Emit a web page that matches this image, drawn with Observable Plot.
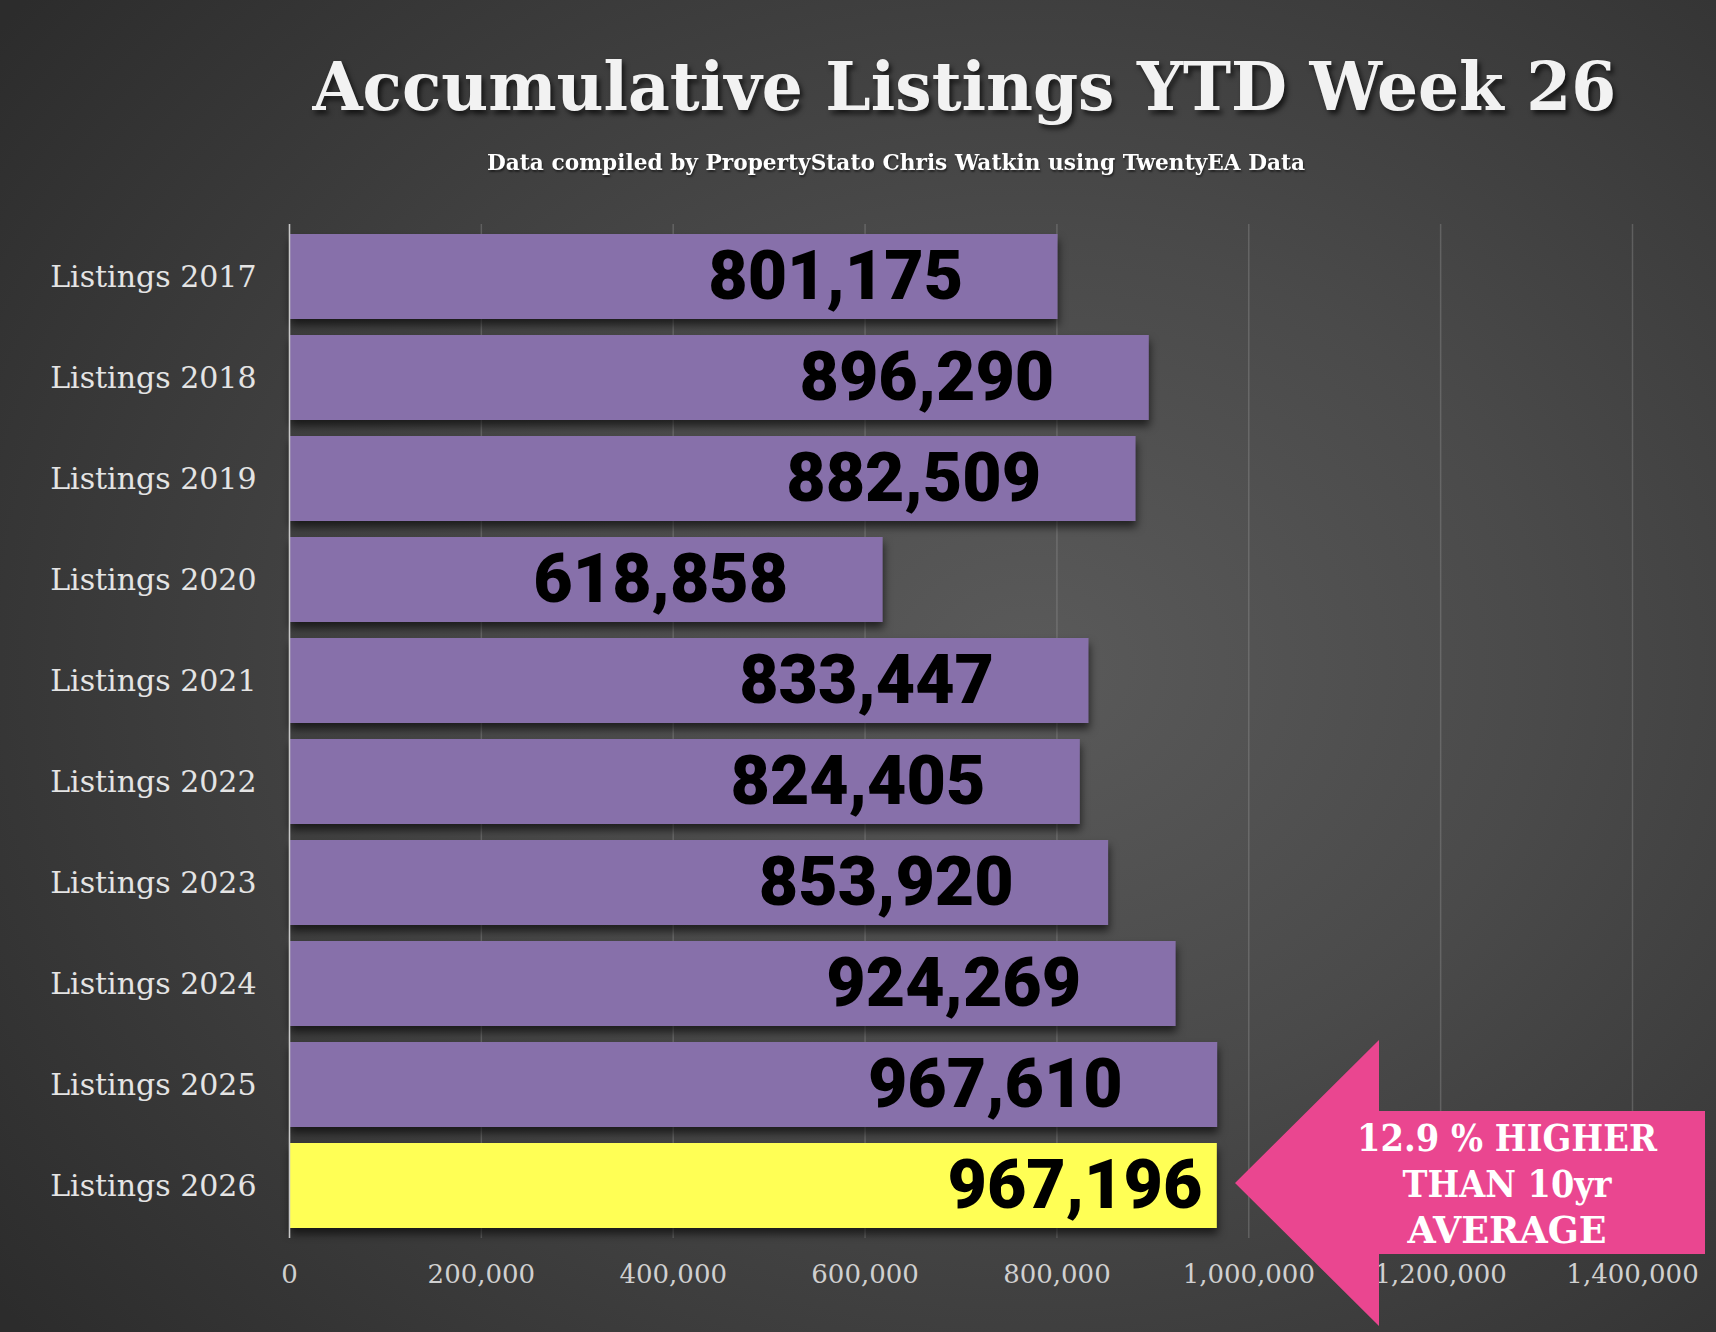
<!DOCTYPE html>
<html>
<head>
<meta charset="utf-8">
<script src="https://cdn.jsdelivr.net/npm/d3@7"></script>
<script src="https://cdn.jsdelivr.net/npm/@observablehq/plot@0.6"></script>
<style>
  html, body { margin: 0; padding: 0; }
  body {
    width: 1716px; height: 1332px; overflow: hidden; position: relative;
    background: radial-gradient(ellipse 75% 80% at 60% 50%, #5a5a5a 0%, #4a4a4a 40%, #2c2c2c 100%);
  }
  .title, .subtitle {
    position: absolute; white-space: nowrap; line-height: 1;
    font-family: "DejaVu Serif", serif; font-weight: bold; color: #f2f2f2;
    transform-origin: center;
  }
  .title { font-size: 68px; top: 52px; text-shadow: 3px 4px 5px rgba(0,0,0,0.65); }
  .subtitle { font-size: 22px; top: 151px; color: #fff; text-shadow: 1px 2px 2px rgba(0,0,0,0.5); }
  #chart { position: absolute; left: 0; top: 0; }
  #callout { position: absolute; left: 0; top: 0; pointer-events: none; }
</style>
</head>
<body>
<div class="title" id="title">Accumulative Listings YTD Week 26</div>
<div class="subtitle" id="subtitle">Data compiled by PropertyStato Chris Watkin using TwentyEA Data</div>
<div id="chart"></div>
<svg id="callout" width="1716" height="1332"></svg>
<script>
// chart data
const years = ["Listings 2017", "Listings 2018", "Listings 2019", "Listings 2020", "Listings 2021",
  "Listings 2022", "Listings 2023", "Listings 2024", "Listings 2025", "Listings 2026"];
const listings = [801175, 896290, 882509, 618858, 833447, 824405, 853920, 924269, 967610, 967196];
const xTicks = [0, 200000, 400000, 600000, 800000, 1000000, 1200000, 1400000];
const currentYear = "Listings 2026";
const calloutLines = ["12.9 % HIGHER", "THAN 10yr", "AVERAGE"];

const rows = years.map((year, i) => ({year, value: listings[i]}));
const fmt = d3.format(",");
const purple = "#8770AA";
const yellow = "#FFFF55";

// squeeze heading text to the width it takes in the original
function fitText(id, cx, target) {
  const el = document.getElementById(id);
  const w = el.offsetWidth;
  el.style.left = (cx - w / 2) + "px";
  el.style.transform = `scaleX(${target / w})`;
}
fitText("title", 964, 1304);
fitText("subtitle", 896, 818);

const valueFont = "Roboto, 'Liberation Sans', sans-serif";

const chart = Plot.plot({
  width: 1716,
  height: 1332,
  marginLeft: 289,
  marginRight: 84,
  marginTop: 224,
  marginBottom: 94,
  style: {background: "transparent", fontFamily: "DejaVu Serif, serif", overflow: "visible"},
  x: {domain: [0, 1400000]},
  y: {domain: years, paddingInner: 0.16, paddingOuter: 0.08},
  marks: [
    Plot.gridX(xTicks, {stroke: "#9a9a9a", strokeOpacity: 0.35, strokeWidth: 1.5}),
    Plot.barX(rows, {
      x: "value", y: "year",
      fill: d => d.year === currentYear ? yellow : purple
    }),
    Plot.ruleX([0], {stroke: "#c8c8c8", strokeWidth: 1.5}),
    Plot.axisY({tickSize: 0, tickPadding: 33, fontSize: 30, fill: "#e4e4e4",
      stroke: "#e4e4e4", strokeWidth: 0.6, label: null}),
    Plot.axisX(xTicks, {tickSize: 0, tickPadding: 26, fontSize: 26, fill: "#d0d0d0", label: null, tickFormat: fmt}),
    Plot.text(rows.filter(d => d.year !== currentYear), {
      x: "value", y: "year", text: d => fmt(d.value),
      textAnchor: "end", dx: -95, fill: "#000",
      fontSize: 68, fontWeight: 900, fontFamily: valueFont
    }),
    Plot.text(rows.filter(d => d.year === currentYear), {
      x: "value", y: "year", text: d => fmt(d.value),
      textAnchor: "end", dx: -15, fill: "#000",
      fontSize: 68, fontWeight: 900, fontFamily: valueFont
    })
  ]
});
document.getElementById("chart").appendChild(chart);
d3.select(chart).selectAll('g[aria-label="bar"]')
  .style("filter", "drop-shadow(1px 6px 4px rgba(0,0,0,0.6))");

// pink arrow call-out
const callout = d3.select("#callout");
callout.append("polygon")
  .attr("points", "1235,1183 1379,1040 1379,1111 1705,1111 1705,1254 1379,1254 1379,1326")
  .attr("fill", "#EA4690");
const lineY = [1151, 1197, 1243];
const lineW = [300, 209, 199];
callout.selectAll("text.callout")
  .data(calloutLines)
  .join("text")
  .attr("x", 1507)
  .attr("y", (d, i) => lineY[i])
  .attr("text-anchor", "middle")
  .attr("textLength", (d, i) => lineW[i])
  .attr("lengthAdjust", "spacingAndGlyphs")
  .attr("fill", "#fff")
  .attr("font-family", "DejaVu Serif, serif")
  .attr("font-weight", "bold")
  .attr("font-size", 37)
  .text(d => d);
</script>
</body>
</html>
